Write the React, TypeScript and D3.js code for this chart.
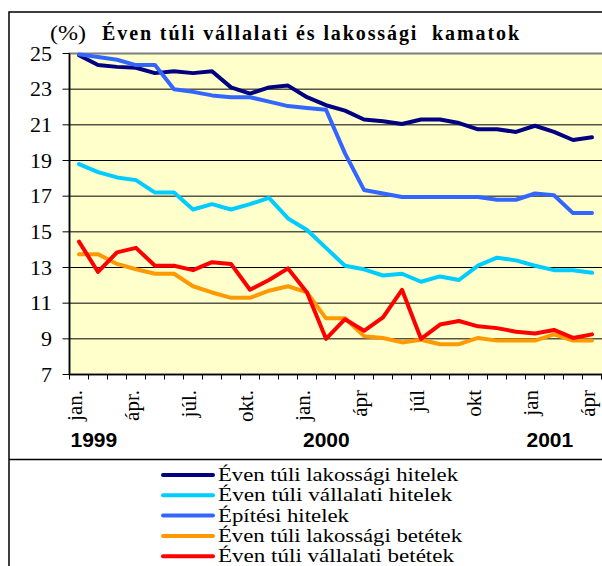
import React from 'react';
import * as d3 from 'd3';

const monthLabels = ['jan.', '', '', 'ápr.', '', '', 'júl.', '', '', 'okt.', '', '', 'jan.', '', '', 'ápr', '', '', 'júl', '', '', 'okt', '', '', 'jan', '', '', 'ápr'];
const yearLabels = ['1999', '2000', '2001'];
const yearIndex = [0, 12, 24];
const yTicks = [7, 9, 11, 13, 15, 17, 19, 21, 23, 25];

const seriesNames = [
  'Éven túli lakossági hitelek',
  'Éven túli vállalati hitelek',
  'Építési hitelek',
  'Éven túli lakossági betétek',
  'Éven túli vállalati betétek',
];
const seriesColors = ['#000080', '#00CCFF', '#3366FF', '#FF9900', '#FF0000'];

const lakossagiHitelek = [24.9, 24.35, 24.25, 24.2, 23.9, 24.0, 23.9, 24.0, 23.1, 22.75, 23.1, 23.2, 22.55, 22.1, 21.8, 21.3, 21.2, 21.05, 21.3, 21.3, 21.1, 20.75, 20.75, 20.6, 20.95, 20.6, 20.15, 20.3];
const vallalatiHitelek = [18.8, 18.35, 18.05, 17.9, 17.2, 17.2, 16.25, 16.55, 16.25, 16.55, 16.9, 15.75, 15.1, 14.1, 13.1, 12.9, 12.55, 12.65, 12.2, 12.5, 12.3, 13.1, 13.55, 13.4, 13.1, 12.85, 12.85, 12.7];
const epitesiHitelek = [24.95, 24.8, 24.65, 24.35, 24.35, 23.0, 22.85, 22.65, 22.55, 22.55, 22.3, 22.05, 21.95, 21.85, 19.4, 17.35, 17.15, 16.95, 16.95, 16.95, 16.95, 16.95, 16.8, 16.8, 17.15, 17.05, 16.05, 16.05];
const lakossagiBetetek = [13.75, 13.75, 13.2, 12.9, 12.65, 12.65, 11.95, 11.6, 11.3, 11.3, 11.7, 11.95, 11.6, 10.15, 10.15, 9.15, 9.05, 8.8, 8.95, 8.7, 8.7, 9.05, 8.9, 8.9, 8.9, 9.25, 8.9, 8.9];
const vallalatiBetetek = [14.45, 12.75, 13.85, 14.1, 13.1, 13.1, 12.85, 13.3, 13.2, 11.75, 12.3, 12.95, 11.6, 9.0, 10.1, 9.45, 10.2, 11.75, 9.0, 9.8, 10.0, 9.7, 9.6, 9.4, 9.3, 9.5, 9.05, 9.25];

const legendTextWidths = [240, 234, 131, 244, 236];

export default function App() {
  const W = 602;
  const H = 566;
  const left = 69.5;
  const right = 601.5;
  const top = 53.5;
  const bottom = 374.5;

  const allSeries = [lakossagiHitelek, vallalatiHitelek, epitesiHitelek, lakossagiBetetek, vallalatiBetetek];

  const x = d3.scaleBand<number>().domain(d3.range(monthLabels.length)).range([left, right]).padding(0);
  const bw = x.bandwidth();
  const cx = (i: number) => (x(i) as number) + bw / 2;
  const y = d3.scaleLinear().domain([7, 25]).range([bottom, top]);

  const line = d3
    .line<number>()
    .x((_, i) => cx(i))
    .y((d) => y(d));

  const tickXs = d3.range(monthLabels.length + 1).map((i) => left + i * bw);
  const serif = "'Liberation Serif', 'Times New Roman', serif";

  return (
    <svg width={W} height={H} style={{ position: 'absolute', left: 0, top: 0, background: '#fff' }}>
      {/* outer border */}
      <rect x={9} y={12} width={W + 10} height={H + 10} fill="#fff" stroke="#000" strokeWidth={1.5} />
      <line x1={9} x2={W} y1={459.5} y2={459.5} stroke="#000" strokeWidth={1.5} />

      {/* title */}
      <text x={50} y={40} fontFamily={serif} fontSize={20} textLength={36} lengthAdjust="spacingAndGlyphs">(%)</text>
      <text x={102} y={40} fontFamily={serif} fontSize={20} fontWeight="bold" textLength={417} lengthAdjust="spacing" style={{ whiteSpace: 'pre' }}>Éven túli vállalati és lakossági  kamatok</text>

      {/* plot area */}
      <rect x={left} y={top} width={right - left + 2} height={bottom - top} fill="#FFFFCC" stroke="#808080" strokeWidth={2} />
      {yTicks.filter((t) => t !== 7 && t !== 25).map((t) => (
        <line key={'g' + t} x1={left} x2={W} y1={y(t)} y2={y(t)} stroke="#000" strokeWidth={1} />
      ))}

      {/* series */}
      {allSeries.map((s, k) => (
        <path key={'s' + k} d={line(s) as string} fill="none" stroke={seriesColors[k]} strokeWidth={4} strokeLinejoin="round" strokeLinecap="round" />
      ))}

      {/* axes */}
      <line x1={left} x2={left} y1={top} y2={bottom} stroke="#000" strokeWidth={1.5} />
      <line x1={left} x2={W} y1={bottom} y2={bottom} stroke="#000" strokeWidth={1.5} />
      {yTicks.map((t) => (
        <g key={'y' + t}>
          <line x1={left - 7} x2={left} y1={y(t)} y2={y(t)} stroke="#000" strokeWidth={1} />
          <text
            x={52}
            y={y(t) + 7}
            textAnchor="end"
            fontFamily={serif}
            fontSize={20}
            textLength={String(t).length * 11}
            lengthAdjust="spacingAndGlyphs"
          >
            {t}
          </text>
        </g>
      ))}
      {tickXs.map((tx, i) => (
        <line key={'xt' + i} x1={tx} x2={tx} y1={bottom} y2={bottom + 5} stroke="#000" strokeWidth={1} />
      ))}
      {monthLabels.map((m, i) =>
        m ? (
          <text
            key={'m' + i}
            transform={`translate(${cx(i) + 3},390) rotate(-90)`}
            textAnchor="end"
            fontFamily={serif}
            fontSize={21}
          >
            {m}
          </text>
        ) : null
      )}
      {yearLabels.map((yl, k) => (
        <text
          key={'yr' + yl}
          x={cx(yearIndex[k]) - (k === 1 ? 4 : 8.5)}
          y={446.5}
          fontFamily="'Liberation Sans', Arial, sans-serif"
          fontWeight="bold"
          fontSize={21}
        >
          {yl}
        </text>
      ))}

      {/* legend */}
      {seriesNames.map((n, k) => {
        const ly = 475 + k * 20.3;
        return (
          <g key={'l' + k}>
            <line x1={163} x2={213} y1={ly} y2={ly} stroke={seriesColors[k]} strokeWidth={4} strokeLinecap="round" />
            <text
              x={218}
              y={ly + 6}
              fontFamily={serif}
              fontSize={19}
              textLength={legendTextWidths[k]}
              lengthAdjust="spacingAndGlyphs"
            >
              {n}
            </text>
          </g>
        );
      })}
    </svg>
  );
}
